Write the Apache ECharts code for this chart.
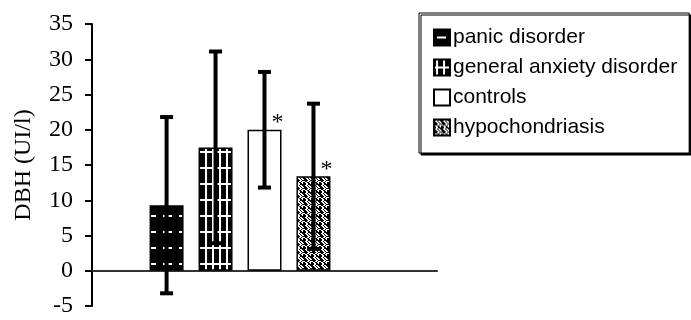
<!DOCTYPE html>
<html><head><meta charset="utf-8">
<script src="https://cdn.jsdelivr.net/npm/echarts@6/dist/echarts.min.js"></script>
<style>html,body{margin:0;padding:0;background:#fff}#c{width:691px;height:320px}</style>
</head><body><div id="c"></div>
<script>
const groups = ['panic disorder', 'general anxiety disorder', 'controls', 'hypochondriasis'];
const means = [9.3, 17.5, 20.0, 13.4];
const sds = [12.5, 13.6, 8.2, 10.3];
const marks = ['', '', '*', '*'];
const yTicks = [-5, 0, 5, 10, 15, 20, 25, 30, 35];

function tile(w, h, draw) {
  const c = document.createElement('canvas');
  c.width = w; c.height = h;
  const g = c.getContext('2d');
  draw(g);
  return c;
}
function bitmap(rows) {
  return tile(rows[0].length, rows.length, g => {
    g.fillStyle = '#fff'; g.fillRect(0, 0, rows[0].length, rows.length);
    g.fillStyle = '#000';
    rows.forEach((r, y) => { for (let x = 0; x < r.length; x++) if (r[x] === '#') g.fillRect(x, y, 1, 1); });
  });
}
const patPanic = tile(16, 16, g => {
  g.fillStyle = '#000'; g.fillRect(0, 0, 16, 16);
  g.fillStyle = '#fff'; g.fillRect(3, 7, 9, 2);
});
const patGad = tile(7, 16, g => {
  g.fillStyle = '#000'; g.fillRect(0, 0, 7, 16);
  g.fillStyle = '#fff'; g.fillRect(2, 0, 2, 16); g.fillRect(0, 7, 7, 2);
});
const patHypo = bitmap([
  '##..####',
  '#..#..##',
  '##..#..#',
  '###..#..',
  '####..##',
  '.##..#..',
  '#..##..#',
  '##..##.#'
]);
const fills = [
  { image: patPanic, repeat: 'repeat' },
  { image: patGad, repeat: 'repeat' },
  '#ffffff',
  { image: patHypo, repeat: 'repeat' }
];

const BW = 34, GAP = 0.44;
const nSlots = 5;
const series = groups.map((name, i) => ({
  type: 'bar', name: name, barWidth: BW, barGap: (GAP * 100) + '%',
  itemStyle: { color: fills[i], borderColor: '#000', borderWidth: 1.5 },
  data: [{ value: means[i], label: { show: marks[i] !== '' } }],
  label: { position: 'top', distance: 0, offset: [13, 5], formatter: () => marks[i],
           fontFamily: 'Liberation Serif', fontSize: 24, color: '#000' },
  z: 2
}));
series.push({ type: 'bar', name: 'spare', barWidth: BW, barGap: (GAP * 100) + '%', data: ['-'] });
series.push({
  type: 'custom', name: 'err', z: 5,
  data: groups.map((g, i) => [0, means[i] - sds[i], means[i] + sds[i], i]),
  renderItem: function (params, api) {
    const idx = api.value(3);
    const off = (idx - (nSlots - 1) / 2) * BW * (1 + GAP);
    const lo = api.coord([api.value(0), api.value(1)]);
    const hi = api.coord([api.value(0), api.value(2)]);
    const x = lo[0] + off;
    const capW = 13;
    const st = { stroke: '#000', lineWidth: 4 };
    return { type: 'group', children: [
      { type: 'line', shape: { x1: x, y1: lo[1], x2: x, y2: hi[1] }, style: st },
      { type: 'line', shape: { x1: x - capW / 2, y1: hi[1], x2: x + capW / 2, y2: hi[1] }, style: st },
      { type: 'line', shape: { x1: x - capW / 2, y1: lo[1], x2: x + capW / 2, y2: lo[1] }, style: st }
    ]};
  }
});

const chart = echarts.init(document.getElementById('c'), null, { renderer: 'canvas' });
chart.setOption({
  animation: false,
  backgroundColor: '#fff',
  grid: { left: 92, right: 254, top: 24, bottom: 14, containLabel: false },
  legend: {
    data: groups, orient: 'vertical', left: 419, top: 13,
    padding: [14, 12, 15, 14], itemGap: 9, itemWidth: 16, itemHeight: 16,
    selectedMode: false, icon: 'rect',
    backgroundColor: '#fff', borderColor: '#000', borderWidth: 1,
    shadowColor: '#000', shadowBlur: 0, shadowOffsetX: 2, shadowOffsetY: 2,
    textStyle: { fontFamily: 'Liberation Sans', fontSize: 21, lineHeight: 21, color: '#000', padding: [0, 0, 0, -2] }
  },
  xAxis: {
    type: 'category', data: [''],
    axisLine: { onZero: true, lineStyle: { color: '#333', width: 2 } },
    axisTick: { show: false }, axisLabel: { show: false }, splitLine: { show: false }
  },
  yAxis: {
    type: 'value', min: yTicks[0], max: yTicks[yTicks.length - 1], interval: 5,
    name: 'DBH (UI/l)', nameLocation: 'middle', nameGap: 56,
    nameTextStyle: { fontFamily: 'Liberation Serif', fontSize: 24, color: '#000' },
    axisLine: { show: true, lineStyle: { color: '#000', width: 2 } },
    axisTick: { show: true, length: 7, lineStyle: { color: '#000', width: 2 } },
    axisLabel: { margin: 19, fontFamily: 'Liberation Serif', fontSize: 24, color: '#000',
                 formatter: v => String(v) },
    splitLine: { show: false }
  },
  series: series
});
</script></body></html>
